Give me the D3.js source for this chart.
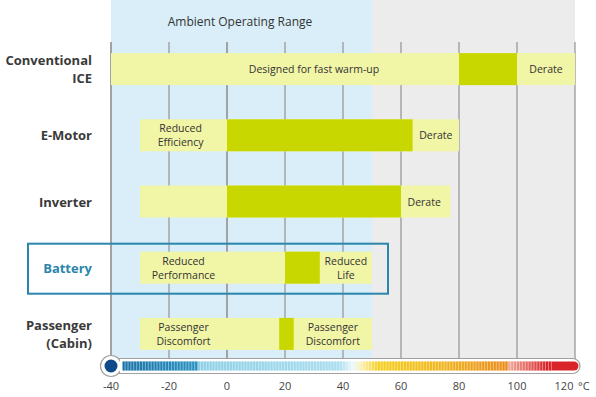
<!DOCTYPE html>
<html>
<head>
<meta charset="utf-8">
<script src="https://cdn.jsdelivr.net/npm/d3@7"></script>
<style>
  html, body { margin: 0; padding: 0; background: #ffffff; }
  svg { display: block; }
  text { font-family: "Open Sans", "DejaVu Sans", sans-serif; }
</style>
</head>
<body>
<svg id="chart" width="596" height="397"></svg>
<script>
// ---------- data ----------
const rows = ["Conventional ICE", "E-Motor", "Inverter", "Battery", "Passenger (Cabin)"];
const rowLabelLines = [["Conventional", "ICE"], ["E-Motor"], ["Inverter"], ["Battery"], ["Passenger", "(Cabin)"]];
// caution (light) band start/end in °C
const cautionStart = [-40, -30, -30, -30, -30];
const cautionEnd   = [120, 80, 77, 50, 50];
// critical (green) band start/end in °C
const criticalStart = [80, 0, 0, 20, 18];
const criticalEnd   = [100, 64, 60, 32, 23];
// annotations: row, centre temperature, text lines
const noteRow  = [0, 0, 1, 1, 2, 3, 3, 4, 4];
const noteTemp = [30, 110, -16, 72, 68, -15, 41, -15, 36.5];
const noteText = [["Designed for fast warm-up"], ["Derate"], ["Reduced", "Efficiency"], ["Derate"], ["Derate"],
                  ["Reduced", "Performance"], ["Reduced", "Life"], ["Passenger", "Discomfort"], ["Passenger", "Discomfort"]];
const tickValues = [-40, -20, 0, 20, 40, 60, 80, 100, 120];
const ambientRange = [-40, 50];
const fullRange = [-40, 120];
const highlightRow = "Battery";
const title = "Ambient Operating Range";

// ---------- scales ----------
const svg = d3.select("#chart");
const x = d3.scaleLinear().domain(fullRange).range([111, 575]);
const y = d3.scalePoint().domain(rows).range([36, 367]).padding(0.5);
const barH = 32;

const cLight = "#f1f5a6", cGreen = "#c9d700", cText = "#333333";

// backgrounds
svg.append("rect").attr("x", x(ambientRange[1])).attr("y", 0)
  .attr("width", x(fullRange[1]) - x(ambientRange[1])).attr("height", 362).attr("fill", "#ececec");
svg.append("rect").attr("x", x(ambientRange[0])).attr("y", 0)
  .attr("width", x(ambientRange[1]) - x(ambientRange[0])).attr("height", 362).attr("fill", "#d9eef8");

svg.append("text").attr("x", 240).attr("y", 26).attr("text-anchor", "middle")
  .attr("font-size", 12).attr("fill", cText).text(title);

// gridlines
svg.append("g").selectAll("line").data(tickValues).join("line")
  .attr("x1", d => x(d)).attr("x2", d => x(d)).attr("y1", 42).attr("y2", 362)
  .attr("stroke", "#9a9a9a").attr("stroke-width", d => (d === -40 || d === 0) ? 1.8 : 1.3);

// bars
const gBars = svg.append("g");
rows.forEach((r, i) => {
  gBars.append("rect").attr("x", x(cautionStart[i])).attr("y", y(r) - barH / 2)
    .attr("width", x(cautionEnd[i]) - x(cautionStart[i])).attr("height", barH).attr("fill", cLight);
  gBars.append("rect").attr("x", x(criticalStart[i])).attr("y", y(r) - barH / 2)
    .attr("width", x(criticalEnd[i]) - x(criticalStart[i])).attr("height", barH).attr("fill", cGreen);
});

// notes
noteRow.forEach((ri, k) => {
  const lines = noteText[k];
  const cy = y(rows[ri]);
  const t = svg.append("text").attr("text-anchor", "middle").attr("font-size", 10.5)
    .attr("fill", cText);
  lines.forEach((ln, j) => {
    t.append("tspan").attr("x", x(noteTemp[k]))
      .attr("y", cy + 4 + (j - (lines.length - 1) / 2) * 14).text(ln);
  });
});

// row labels
rows.forEach((r, i) => {
  const lines = rowLabelLines[i];
  const t = svg.append("text").attr("text-anchor", "end").attr("font-size", 13)
    .attr("font-weight", 700).attr("fill", r === highlightRow ? "#2a86ad" : "#3a3a3a");
  lines.forEach((ln, j) => {
    t.append("tspan").attr("x", 92).attr("y", y(r) + 5 + (j - (lines.length - 1) / 2) * 18).text(ln);
  });
});

// highlight box
svg.append("rect").attr("x", 28).attr("y", y(highlightRow) - 24)
  .attr("width", 360).attr("height", 50).attr("fill", "none")
  .attr("stroke", "#2a86ad").attr("stroke-width", 2);

// ---------- thermometer ----------
const ty = 366;
svg.append("rect").attr("x", x(-40)).attr("y", ty - 7.5).attr("width", 580 - x(-40)).attr("height", 15)
  .attr("rx", 7.5).attr("fill", "#ffffff").attr("stroke", "#a0a0a0").attr("stroke-width", 1.2);
svg.append("circle").attr("cx", x(-40)).attr("cy", ty).attr("r", 10.5)
  .attr("fill", "#ffffff").attr("stroke", "#a0a0a0").attr("stroke-width", 1.2);
svg.append("rect").attr("x", x(-40) + 9).attr("y", ty - 6.3).attr("width", 8).attr("height", 12.6).attr("fill", "#ffffff");
svg.append("circle").attr("cx", x(-40)).attr("cy", ty).attr("r", 6.5).attr("fill", "#0e4a8a");

const tColor = d3.scaleLinear()
  .domain([-40, -11, -10, 38, 43, 46, 52, 75, 96, 97, 110])
  .range(["#1a70a5", "#2a92c2", "#8ed0e6", "#a8ddee", "#eaf7fb", "#fbeeb0", "#f5cf20", "#f0b420", "#ea8c1c", "#f0a898", "#d9242a"])
  .clamp(true);
const stripeTemps = d3.range(-36, 112, 1);
// soft fill behind stripes
svg.append("g").selectAll("rect").data(stripeTemps).join("rect")
  .attr("x", d => x(d)).attr("y", ty - 4.5).attr("width", x(1) - x(0) + 0.2).attr("height", 9)
  .attr("fill", d => d3.interpolateRgb(tColor(d), "#ffffff")(0.45));
svg.append("g").selectAll("rect").data(stripeTemps).join("rect")
  .attr("x", d => x(d)).attr("y", ty - 4.5).attr("width", 2).attr("height", 9)
  .attr("fill", d => tColor(d));
svg.append("path")
  .attr("d", `M${x(112)},${ty - 4.5} H${x(120) - 1} A4.5,4.5 0 0 1 ${x(120) - 1},${ty + 4.5} H${x(112)} Z`)
  .attr("fill", "#d9242a");

// tick labels
const lastTick = tickValues[tickValues.length - 1];
svg.append("g").selectAll("text").data(tickValues).join("text")
  .attr("x", d => x(d) + (d === lastTick ? -11 : 0)).attr("y", 390).attr("text-anchor", "middle")
  .attr("font-size", 11).attr("fill", "#444").text(d => d);
svg.append("text").attr("x", x(lastTick) + 3).attr("y", 390).attr("font-size", 11)
  .attr("fill", "#444").text("°C");
</script>
</body>
</html>
